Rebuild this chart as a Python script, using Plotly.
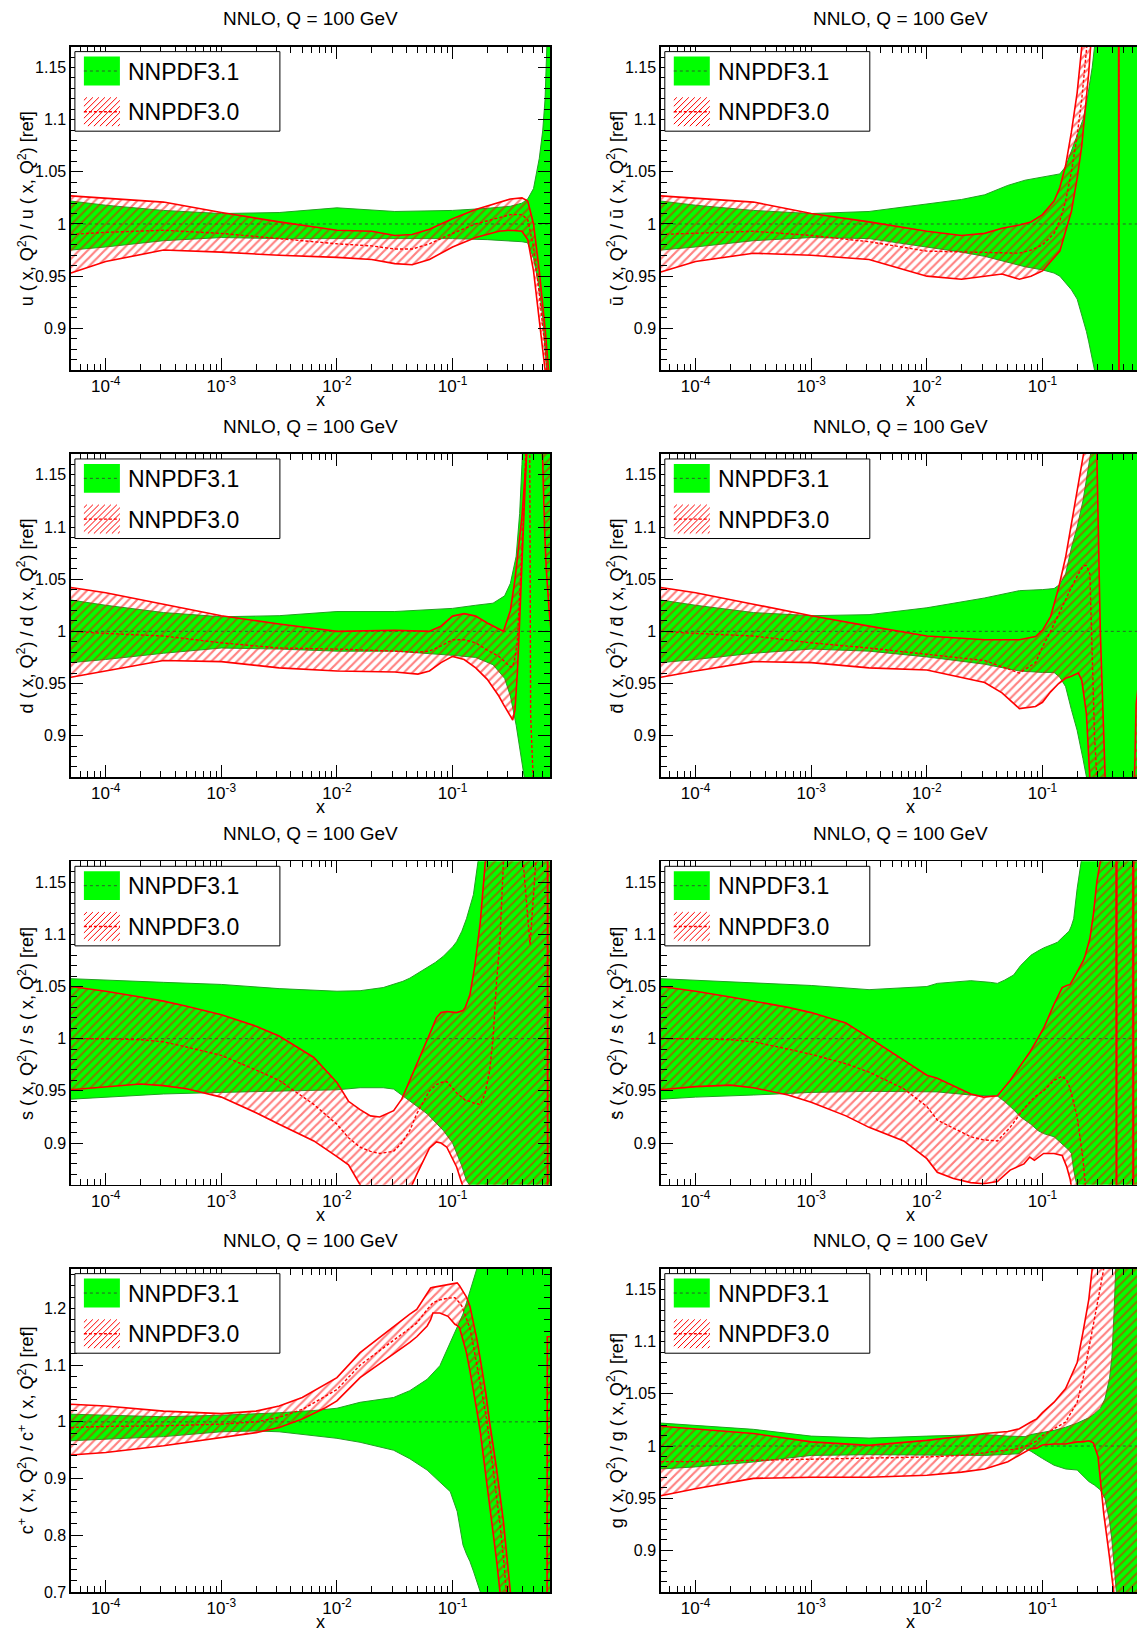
import math
import plotly.graph_objects as go

# ---------------- data (x given as log10(x); values are ratios to NNPDF3.1) ----------------
REF_LX = [-4.301, -0.1]
REF_Y = [1.0, 1.0]

# u
U_G_LX = [-4.301, -4.0, -3.5, -3.0, -2.5, -2.0, -1.5, -1.0, -0.7, -0.5, -0.4, -0.35, -0.3, -0.25, -0.22, -0.2, -0.185, -0.17, -0.14]
U_G_LO = [0.975, 0.978, 0.984, 0.987, 0.986, 0.986, 0.986, 0.986, 0.985, 0.984, 0.983, 0.982, 0.967, 0.939, 0.91, 0.88, 0.86, 0.80, 0.70]
U_G_HI = [1.022, 1.018, 1.013, 1.010, 1.011, 1.0155, 1.012, 1.013, 1.015, 1.017, 1.020, 1.024, 1.034, 1.063, 1.09, 1.12, 1.17, 1.25, 1.35]
U_R_LX = [-4.301, -4.0, -3.5, -3.0, -2.5, -2.0, -1.7, -1.5, -1.35, -1.2, -1.0, -0.8, -0.6, -0.5, -0.4, -0.35, -0.3, -0.25, -0.2, -0.17, -0.14]
U_R_HI = [1.027, 1.0245, 1.021, 1.011, 1.002, 0.994, 0.993, 0.989, 0.990, 0.995, 1.005, 1.014, 1.021, 1.024, 1.025, 1.022, 1.0, 0.955, 0.90, 0.86, 0.82]
U_R_LO = [0.953, 0.964, 0.975, 0.973, 0.970, 0.968, 0.966, 0.962, 0.961, 0.966, 0.978, 0.987, 0.993, 0.994, 0.993, 0.985, 0.955, 0.91, 0.86, 0.82, 0.78]
U_R_MID = [0.990, 0.992, 0.994, 0.991, 0.986, 0.981, 0.979, 0.976, 0.976, 0.981, 0.991, 1.000, 1.006, 1.009, 1.009, 1.004, 0.978, 0.933, 0.88, 0.84, 0.80]

# ubar
UB_G_LX = [-4.301, -4.0, -3.5, -3.0, -2.5, -2.0, -1.7, -1.5, -1.3, -1.15, -1.0, -0.9, -0.85, -0.8, -0.75, -0.7, -0.65, -0.62, -0.6, -0.57, -0.55, -0.5, -0.1]
UB_G_LO = [0.975, 0.978, 0.984, 0.987, 0.986, 0.978, 0.973, 0.969, 0.963, 0.959, 0.956, 0.953, 0.950, 0.944, 0.937, 0.928, 0.910, 0.897, 0.887, 0.872, 0.86, 0.80, 0.5]
UB_G_HI = [1.022, 1.018, 1.013, 1.010, 1.012, 1.019, 1.0235, 1.028, 1.037, 1.042, 1.045, 1.047, 1.048, 1.055, 1.07, 1.085, 1.10, 1.115, 1.13, 1.15, 1.17, 1.25, 1.5]
UB_R_LX = [-4.301, -4.0, -3.5, -3.0, -2.5, -2.0, -1.7, -1.5, -1.35, -1.2, -1.1, -1.0, -0.9, -0.85, -0.8, -0.75, -0.7, -0.66, -0.6, -0.58, -0.5, -0.342, -0.338, -0.1]
UB_R_HI = [1.027, 1.0245, 1.021, 1.010, 1.002, 0.993, 0.989, 0.991, 0.996, 0.999, 1.002, 1.009, 1.022, 1.035, 1.056, 1.088, 1.126, 1.17, 1.25, 1.3, 1.4, 1.5, 0.5, 0.4]
UB_R_LO = [0.954, 0.964, 0.972, 0.970, 0.966, 0.950, 0.947, 0.950, 0.952, 0.947, 0.950, 0.955, 0.967, 0.974, 0.993, 1.012, 1.044, 1.075, 1.145, 1.17, 1.3, 1.4, 0.4, 0.3]
UB_R_MID = [0.990, 0.991, 0.993, 0.989, 0.983, 0.974, 0.973, 0.973, 0.972, 0.972, 0.975, 0.980, 0.991, 1.003, 1.022, 1.05, 1.085, 1.12, 1.19, 1.23, 1.35, 1.45, 0.45, 0.35]

# d
D_G_LX = [-4.301, -4.0, -3.5, -3.0, -2.5, -2.0, -1.5, -1.2, -1.0, -0.8, -0.65, -0.55, -0.5, -0.45, -0.42, -0.4, -0.38, -0.35, -0.1]
D_G_HI = [1.030, 1.025, 1.018, 1.014, 1.015, 1.019, 1.019, 1.021, 1.022, 1.025, 1.027, 1.034, 1.046, 1.072, 1.113, 1.16, 1.2, 1.3, 1.5]
D_G_LO = [0.970, 0.973, 0.979, 0.984, 0.983, 0.981, 0.981, 0.979, 0.977, 0.975, 0.968, 0.955, 0.938, 0.910, 0.89, 0.875, 0.86, 0.8, 0.5]
D_R_LX = [-4.301, -4.0, -3.5, -3.0, -2.5, -2.0, -1.5, -1.3, -1.2, -1.1, -1.0, -0.9, -0.8, -0.7, -0.6, -0.56, -0.5, -0.48, -0.46, -0.44, -0.42, -0.4, -0.38, -0.36, -0.335, -0.325, -0.3, -0.23, -0.205, -0.19, -0.165, -0.14]
D_R_HI = [1.042, 1.037, 1.026, 1.015, 1.007, 1.0, 1.001, 1.0, 1.0, 1.005, 1.0146, 1.017, 1.0146, 1.008, 1.002, 1.0, 1.02, 1.034, 1.05, 1.07, 1.088, 1.11, 1.14, 1.17, 1.3, 1.3, 1.3, 1.3, 1.3, 1.3, 1.3, 1.3]
D_R_LO = [0.956, 0.962, 0.972, 0.971, 0.965, 0.962, 0.961, 0.959, 0.962, 0.970, 0.976, 0.973, 0.965, 0.954, 0.938, 0.93, 0.918, 0.915, 0.925, 0.96, 1.01, 1.07, 1.12, 1.17, 1.24, 1.245, 1.25, 1.2, 1.1, 1.06, 1.02, 0.99]
D_R_MID = [1.0, 0.998, 0.9955, 0.989, 0.984, 0.983, 0.981, 0.980, 0.981, 0.986, 0.992, 0.992, 0.989, 0.982, 0.976, 0.972, 0.966, 0.966, 0.975, 0.99, 1.03, 1.08, 1.13, 1.2, 1.25, 0.92, 0.85, 0.8, 0.8, 0.8, 0.8, 0.8]

# dbar
DB_G_LX = [-4.301, -4.0, -3.5, -3.0, -2.5, -2.0, -1.5, -1.2, -1.0, -0.9, -0.85, -0.8, -0.75, -0.7, -0.65, -0.62, -0.6, -0.58, -0.55, -0.1]
DB_G_HI = [1.030, 1.025, 1.018, 1.015, 1.016, 1.0226, 1.032, 1.039, 1.040, 1.041, 1.045, 1.055, 1.08, 1.10, 1.125, 1.145, 1.16, 1.175, 1.2, 1.5]
DB_G_LO = [0.970, 0.973, 0.979, 0.983, 0.981, 0.9755, 0.9685, 0.962, 0.9606, 0.9606, 0.956, 0.947, 0.925, 0.905, 0.878, 0.86, 0.85, 0.84, 0.82, 0.5]
DB_R_LX = [-4.301, -4.0, -3.5, -3.0, -2.5, -2.0, -1.5, -1.35, -1.2, -1.06, -1.0, -0.93, -0.86, -0.8, -0.75, -0.69, -0.66, -0.645, -0.62, -0.59, -0.55, -0.53, -0.5, -0.47, -0.44, -0.3, -0.22, -0.2, -0.19, -0.17]
DB_R_HI = [1.042, 1.037, 1.026, 1.015, 1.005, 0.9955, 0.992, 0.992, 0.992, 0.995, 1.001, 1.014, 1.042, 1.071, 1.103, 1.138, 1.16, 1.17, 1.22, 1.25, 1.2, 1.17, 1.0, 0.86, 0.8, 0.7, 0.8, 0.88, 0.93, 0.95]
DB_R_LO = [0.956, 0.962, 0.971, 0.970, 0.965, 0.963, 0.951, 0.941, 0.926, 0.928, 0.932, 0.942, 0.950, 0.955, 0.957, 0.960, 0.953, 0.940, 0.921, 0.858, 0.8, 0.78, 0.76, 0.75, 0.7, 0.65, 0.6, 0.6, 0.6, 0.6]
DB_R_MID = [1.0, 0.998, 0.9955, 0.989, 0.984, 0.978, 0.972, 0.966, 0.96, 0.97, 0.985, 1.0, 1.017, 1.03, 1.042, 1.055, 1.06, 1.063, 1.063, 1.055, 0.90, 0.85, 0.8, 0.78, 0.75, 0.7, 0.7, 0.7, 0.7, 0.7]

# s
S_G_LX = [-4.301, -4.0, -3.5, -3.0, -2.5, -2.0, -1.8, -1.6, -1.51, -1.43, -1.37, -1.3, -1.22, -1.15, -1.08, -1.0, -0.965, -0.92, -0.88, -0.82, -0.78, -0.7, -0.1]
S_G_HI = [1.0575, 1.056, 1.054, 1.052, 1.048, 1.0455, 1.046, 1.049, 1.052, 1.055, 1.058, 1.063, 1.068, 1.073, 1.079, 1.088, 1.093, 1.103, 1.115, 1.138, 1.17, 1.25, 1.5]
S_G_LO = [0.942, 0.944, 0.947, 0.9485, 0.9495, 0.951, 0.953, 0.953, 0.9517, 0.945, 0.940, 0.934, 0.928, 0.92, 0.912, 0.90, 0.89, 0.878, 0.864, 0.855, 0.84, 0.8, 0.5]
S_R_LX = [-4.301, -4.0, -3.7, -3.5, -3.3, -3.0, -2.7, -2.5, -2.2, -2.0, -1.9, -1.8, -1.71, -1.63, -1.51, -1.44, -1.37, -1.31, -1.25, -1.2, -1.14, -1.1, -1.05, -0.965, -0.91, -0.89, -0.85, -0.81, -0.76, -0.72, -0.68, -0.65, -0.62, -0.59, -0.56, -0.45, -0.39, -0.33, -0.28, -0.25, -0.18, -0.178, -0.176, -0.14]
S_R_HI = [1.050, 1.0455, 1.04, 1.036, 1.031, 1.023, 1.012, 1.0025, 0.982, 0.958, 0.94, 0.932, 0.926, 0.925, 0.931, 0.942, 0.96, 0.975, 0.99, 1.004, 1.02, 1.025, 1.026, 1.025, 1.027, 1.03, 1.042, 1.068, 1.112, 1.17, 1.25, 1.3, 1.3, 1.3, 1.3, 1.3, 1.3, 1.3, 1.3, 1.3, 1.3, 0.4, 1.3, 1.3]
S_R_LO = [0.951, 0.954, 0.9565, 0.955, 0.952, 0.944, 0.929, 0.918, 0.902, 0.887, 0.879, 0.86, 0.845, 0.835, 0.83, 0.84, 0.855, 0.87, 0.883, 0.895, 0.901, 0.9, 0.896, 0.877, 0.858, 0.85, 0.83, 0.8, 0.75, 0.7, 0.65, 0.6, 0.55, 0.5, 0.5, 0.5, 0.5, 0.5, 0.5, 0.5, 0.5, 0.4, 0.5, 0.5]
S_R_MID = [1.0, 1.0, 0.999, 0.997, 0.992, 0.984, 0.970, 0.960, 0.937, 0.918, 0.905, 0.896, 0.892, 0.89, 0.892, 0.9, 0.912, 0.928, 0.94, 0.95, 0.956, 0.958, 0.959, 0.948, 0.943, 0.941, 0.94, 0.938, 0.937, 0.947, 0.969, 1.0, 1.054, 1.095, 1.17, 1.25, 1.17, 1.09, 1.17, 1.3, 1.3, 1.3, 1.3, 1.3]

# sbar
SB_G_LX = [-4.301, -4.0, -3.5, -3.0, -2.5, -2.0, -1.91, -1.62, -1.45, -1.39, -1.33, -1.25, -1.19, -1.1, -1.04, -0.99, -0.9, -0.87, -0.8, -0.77, -0.75, -0.73, -0.70, -0.665, -0.6, -0.1]
SB_G_HI = [1.0575, 1.056, 1.054, 1.051, 1.047, 1.050, 1.053, 1.0556, 1.054, 1.053, 1.056, 1.061, 1.07, 1.080, 1.084, 1.087, 1.091, 1.0925, 1.1, 1.103, 1.108, 1.115, 1.144, 1.17, 1.25, 1.5]
SB_G_LO = [0.942, 0.944, 0.946, 0.9485, 0.9495, 0.9495, 0.949, 0.946, 0.945, 0.945, 0.94, 0.932, 0.925, 0.918, 0.912, 0.909, 0.906, 0.903, 0.896, 0.893, 0.89, 0.874, 0.858, 0.84, 0.8, 0.5]
SB_R_LX = [-4.301, -4.0, -3.7, -3.5, -3.2, -3.0, -2.7, -2.5, -2.2, -2.0, -1.91, -1.77, -1.62, -1.51, -1.39, -1.28, -1.16, -1.11, -1.07, -0.99, -0.9, -0.83, -0.79, -0.76, -0.75, -0.7, -0.65, -0.63, -0.59, -0.56, -0.53, -0.5, -0.4, -0.364, -0.36, -0.356, -0.219, -0.215, -0.211, -0.14]
SB_R_HI = [1.050, 1.0455, 1.04, 1.036, 1.03, 1.025, 1.015, 1.001, 0.979, 0.965, 0.962, 0.955, 0.947, 0.944, 0.9453, 0.96, 0.979, 0.987, 0.9946, 1.01, 1.033, 1.049, 1.051, 1.052, 1.054, 1.0645, 1.074, 1.08, 1.096, 1.119, 1.15, 1.17, 1.3, 1.3, 0.4, 1.3, 1.3, 0.4, 1.3, 1.3]
SB_R_LO = [0.951, 0.954, 0.9555, 0.953, 0.946, 0.939, 0.926, 0.915, 0.902, 0.885, 0.872, 0.866, 0.862, 0.861, 0.863, 0.874, 0.880, 0.8865, 0.8834, 0.89, 0.89, 0.888, 0.877, 0.865, 0.858, 0.8, 0.75, 0.7, 0.6, 0.5, 0.5, 0.5, 0.5, 0.5, 0.4, 0.5, 0.5, 0.4, 0.5, 0.5]
SB_R_MID = [1.0, 1.0, 0.999, 0.997, 0.99, 0.985, 0.976, 0.968, 0.952, 0.935, 0.922, 0.914, 0.906, 0.903, 0.902, 0.915, 0.933, 0.939, 0.944, 0.95, 0.96, 0.964, 0.96, 0.952, 0.947, 0.925, 0.885, 0.858, 0.8, 0.75, 0.7, 0.7, 0.7, 0.7, 0.7, 0.7, 0.7, 0.7, 0.7, 0.7]

# c+
CP_G_LX = [-4.301, -4.0, -3.5, -3.0, -2.7, -2.5, -2.2, -2.0, -1.8, -1.51, -1.37, -1.22, -1.11, -1.02, -0.96, -0.94, -0.91, -0.88, -0.85, -0.82, -0.79, -0.76, -0.7, -0.1]
CP_G_HI = [1.0135, 1.0117, 1.009, 1.0117, 1.014, 1.016, 1.02, 1.024, 1.0345, 1.043, 1.055, 1.075, 1.099, 1.14, 1.165, 1.175, 1.19, 1.21, 1.23, 1.25, 1.27, 1.29, 1.35, 1.6]
CP_G_LO = [0.9667, 0.9696, 0.974, 0.9825, 0.984, 0.9825, 0.975, 0.971, 0.964, 0.95, 0.935, 0.915, 0.894, 0.877, 0.842, 0.82, 0.783, 0.767, 0.754, 0.737, 0.719, 0.70, 0.65, 0.4]
CP_R_LX = [-4.301, -4.0, -3.5, -3.0, -2.7, -2.5, -2.3, -2.1, -2.0, -1.8, -1.51, -1.37, -1.31, -1.22, -1.19, -1.17, -1.11, -1.04, -0.98, -0.96, -0.94, -0.92, -0.88, -0.85, -0.82, -0.79, -0.76, -0.73, -0.71, -0.68, -0.65, -0.62, -0.59, -0.56, -0.5, -0.3, -0.184, -0.181, -0.14]
CP_R_HI = [1.031, 1.028, 1.019, 1.0146, 1.019, 1.028, 1.043, 1.066, 1.078, 1.122, 1.169, 1.19, 1.198, 1.225, 1.236, 1.237, 1.239, 1.242, 1.244, 1.245, 1.24, 1.233, 1.22, 1.204, 1.177, 1.146, 1.11, 1.075, 1.047, 0.9994, 0.96, 0.918, 0.871, 0.824, 0.70, 0.5, 0.5, 1.15, 1.15]
CP_R_LO = [0.9415, 0.946, 0.958, 0.9725, 0.981, 0.990, 1.005, 1.025, 1.037, 1.078, 1.119, 1.14, 1.15, 1.169, 1.18, 1.192, 1.192, 1.186, 1.172, 1.17, 1.166, 1.15, 1.122, 1.09, 1.058, 1.02, 0.982, 0.935, 0.90, 0.86, 0.812, 0.757, 0.70, 0.65, 0.55, 0.45, 0.45, 0.45, 0.45]
CP_R_MID = [0.990, 0.992, 0.993, 0.996, 1.0, 1.008, 1.022, 1.045, 1.057, 1.10, 1.144, 1.165, 1.174, 1.198, 1.205, 1.21, 1.215, 1.218, 1.219, 1.215, 1.21, 1.204, 1.18, 1.165, 1.134, 1.1, 1.068, 1.0345, 1.01, 0.965, 0.918, 0.87, 0.82, 0.76, 0.62, 0.5, 0.5, 0.5, 0.5]

# g
GL_G_LX = [-4.301, -4.0, -3.5, -3.0, -2.5, -2.0, -1.5, -1.3, -1.2, -1.15, -1.1, -1.0, -0.9, -0.8, -0.7, -0.6, -0.55, -0.5, -0.46, -0.42, -0.4, -0.38, -0.36, -0.34, -0.1]
GL_G_HI = [1.022, 1.020, 1.016, 1.0095, 1.0076, 1.0095, 1.011, 1.0095, 1.0095, 1.009, 1.011, 1.013, 1.015, 1.018, 1.022, 1.027, 1.031, 1.036, 1.045, 1.065, 1.085, 1.13, 1.17, 1.25, 1.5]
GL_G_LO = [0.978, 0.980, 0.9847, 0.991, 0.9917, 0.991, 0.991, 0.992, 0.9927, 0.9975, 0.995, 0.988, 0.9816, 0.978, 0.977, 0.966, 0.9625, 0.958, 0.95, 0.928, 0.91, 0.886, 0.86, 0.82, 0.5]
GL_R_LX = [-4.301, -4.0, -3.5, -3.0, -2.5, -2.0, -1.7, -1.5, -1.3, -1.2, -1.1, -1.05, -1.0, -0.9, -0.8, -0.7, -0.65, -0.6, -0.57, -0.56, -0.52, -0.47, -0.42, -0.38, -0.34, -0.1]
GL_R_HI = [1.019, 1.0165, 1.012, 1.004, 1.0006, 1.0054, 1.0095, 1.012, 1.014, 1.0165, 1.023, 1.026, 1.032, 1.042, 1.055, 1.08, 1.109, 1.14, 1.17, 1.18, 1.25, 1.3, 1.35, 1.4, 1.45, 1.6]
GL_R_LO = [0.9523, 0.959, 0.969, 0.970, 0.970, 0.972, 0.975, 0.978, 0.985, 0.991, 0.9975, 0.998, 1.001, 1.002, 1.002, 1.004, 1.004, 1.005, 1.004, 1.003, 0.99, 0.935, 0.893, 0.86, 0.82, 0.5]
GL_R_MID = [0.985, 0.985, 0.9863, 0.9873, 0.988, 0.9895, 0.991, 0.9936, 0.996, 0.9975, 1.002, 1.005, 1.01, 1.0165, 1.023, 1.042, 1.064, 1.093, 1.11, 1.115, 1.14, 1.17, 1.2, 1.2, 1.2, 1.3]

Y_STD_VALS = [0.9, 0.95, 1.0, 1.05, 1.1, 1.15]
Y_STD_TEXT = ["0.9", "0.95", "1", "1.05", "1.1", "1.15"]
Y_CP_VALS = [0.7, 0.8, 0.9, 1.0, 1.1, 1.2]
Y_CP_TEXT = ["0.7", "0.8", "0.9", "1", "1.1", "1.2"]
X_TICK_VALS = [1e-4, 1e-3, 1e-2, 1e-1]
X_TICK_TEXT = ["10<sup>-4</sup>", "10<sup>-3</sup>", "10<sup>-2</sup>", "10<sup>-1</sup>"]

TITLE = "NNLO, Q = 100 GeV"
LEG_31 = "NNPDF3.1"
LEG_30 = "NNPDF3.0"

Q2 = "Q<sup>2</sup>"
PANELS = [
    dict(lab="u ( x, %s) / u ( x, %s) [ref]" % (Q2, Q2), g=(U_G_LX, U_G_LO, U_G_HI), r=(U_R_LX, U_R_LO, U_R_HI, U_R_MID), cp=False),
    dict(lab="\u016b ( x, %s) / \u016b ( x, %s) [ref]" % (Q2, Q2), g=(UB_G_LX, UB_G_LO, UB_G_HI), r=(UB_R_LX, UB_R_LO, UB_R_HI, UB_R_MID), cp=False),
    dict(lab="d ( x, %s) / d ( x, %s) [ref]" % (Q2, Q2), g=(D_G_LX, D_G_LO, D_G_HI), r=(D_R_LX, D_R_LO, D_R_HI, D_R_MID), cp=False),
    dict(lab="d\u0304 ( x, %s) / d\u0304 ( x, %s) [ref]" % (Q2, Q2), g=(DB_G_LX, DB_G_LO, DB_G_HI), r=(DB_R_LX, DB_R_LO, DB_R_HI, DB_R_MID), cp=False),
    dict(lab="s ( x, %s) / s ( x, %s) [ref]" % (Q2, Q2), g=(S_G_LX, S_G_LO, S_G_HI), r=(S_R_LX, S_R_LO, S_R_HI, S_R_MID), cp=False),
    dict(lab="s\u0304 ( x, %s) / s\u0304 ( x, %s) [ref]" % (Q2, Q2), g=(SB_G_LX, SB_G_LO, SB_G_HI), r=(SB_R_LX, SB_R_LO, SB_R_HI, SB_R_MID), cp=False),
    dict(lab="c<sup>+</sup> ( x, %s) / c<sup>+</sup> ( x, %s) [ref]" % (Q2, Q2), g=(CP_G_LX, CP_G_LO, CP_G_HI), r=(CP_R_LX, CP_R_LO, CP_R_HI, CP_R_MID), cp=True),
    dict(lab="g ( x, %s) / g ( x, %s) [ref]" % (Q2, Q2), g=(GL_G_LX, GL_G_LO, GL_G_HI), r=(GL_R_LX, GL_R_LO, GL_R_HI, GL_R_MID), cp=False),
]

# ---------------- geometry / style ----------------
W, H = 1137, 1634
FONT = "Liberation Sans, Arial, Helvetica, sans-serif"
GREEN = "#00ff00"
GREEN_EDGE = "#22a022"
GREEN_DASH = "#2c5f2c"
RED = "#ff0000"

COL_X0 = [70.9, 660.8]
ROW_Y0 = 46.9
ROW_STEP = 409.6
FRAME_W = 479.4
FRAME_H = 325.2
X_MIN_LOG = math.log10(5e-5)
X_MAX_LOG = math.log10(0.7)
PX_PER_DEC = FRAME_W / (X_MAX_LOG - X_MIN_LOG)


def P(x):
    return x / W


def Qy(y):
    return 1 - y / H


def hatch_shapes(x0, y0, x1, y1, step):
    out = []
    c = x0 + y0 + step * 0.5
    while c < x1 + y1:
        xa = max(x0, c - y1)
        xb = min(x1, c - y0)
        if xb > xa:
            out.append(dict(type="line", xref="paper", yref="paper",
                            x0=P(xa), y0=Qy(c - xa), x1=P(xb), y1=Qy(c - xb),
                            line=dict(color=RED, width=1)))
        c += step
    return out


fig = go.Figure()
shapes = []
annotations = []
layout_axes = {}

for i, p in enumerate(PANELS):
    r, c = divmod(i, 2)
    fx = COL_X0[c]
    fy = ROW_Y0 + r * ROW_STEP
    x1 = min(fx + FRAME_W, W)
    xmax_log = X_MIN_LOG + (x1 - fx) / PX_PER_DEC
    sfx = "" if i == 0 else str(i + 1)
    xa, ya = "x" + sfx, "y" + sfx

    g_lx, g_lo, g_hi = p["g"]
    r_lx, r_lo, r_hi, r_mid = p["r"]
    for arr, ref, nm in ((g_lo, g_lx, "g_lo"), (g_hi, g_lx, "g_hi"), (r_lo, r_lx, "r_lo"), (r_hi, r_lx, "r_hi"), (r_mid, r_lx, "r_mid")):
        if len(arr) != len(ref):
            raise ValueError("panel %d %s length %d vs %d" % (i, nm, len(arr), len(ref)))
    gx = [10 ** v for v in g_lx]
    rx = [10 ** v for v in r_lx]

    common = dict(xaxis=xa, yaxis=ya, hoverinfo="skip", showlegend=False, mode="lines")
    fig.add_trace(go.Scatter(x=gx, y=g_lo, line=dict(color=GREEN_EDGE, width=1), **common))
    fig.add_trace(go.Scatter(x=gx, y=g_hi, line=dict(color=GREEN_EDGE, width=1),
                             fill="tonexty", fillcolor=GREEN, **common))
    fig.add_trace(go.Scatter(x=[10 ** v for v in REF_LX], y=REF_Y,
                             line=dict(color=GREEN_DASH, width=1, dash="3px,3px"), **common))
    fig.add_trace(go.Scatter(x=rx, y=r_lo, line=dict(color=RED, width=1.6), **common))
    fig.add_trace(go.Scatter(x=rx, y=r_hi, line=dict(color=RED, width=1.6),
                             fill="tonexty", fillcolor="rgba(0,0,0,0)",
                             fillpattern=dict(shape="/", fgcolor=RED, bgcolor="rgba(0,0,0,0)",
                                              size=6, solidity=0.36, fillmode="overlay"),
                             **common))
    fig.add_trace(go.Scatter(x=rx, y=r_mid, line=dict(color=RED, width=1.4, dash="3px,2px"), **common))

    if p["cp"]:
        yr, yv, yt, ymin = [0.7, 1.27], Y_CP_VALS, Y_CP_TEXT, 0.02
    else:
        yr, yv, yt, ymin = [0.86, 1.17], Y_STD_VALS, Y_STD_TEXT, 0.01

    layout_axes["xaxis" + sfx] = dict(
        domain=[P(fx), P(x1)], anchor=ya, type="log", range=[X_MIN_LOG, xmax_log],
        showline=True, linecolor="black", linewidth=1.5, mirror="ticks",
        ticks="inside", ticklen=12, tickwidth=1, tickcolor="black",
        tickmode="array", tickvals=X_TICK_VALS, ticktext=X_TICK_TEXT,
        tickfont=dict(family=FONT, size=17, color="black"),
        minor=dict(ticks="inside", ticklen=6, tickwidth=1, tickcolor="black", dtick="D1", showgrid=False),
        showgrid=False, zeroline=False, fixedrange=True,
    )
    layout_axes["yaxis" + sfx] = dict(
        domain=[Qy(fy + FRAME_H), Qy(fy)], anchor=xa, range=yr,
        showline=True, linecolor="black", linewidth=1.5, mirror=("ticks" if c == 0 else False),
        ticks="inside", ticklen=12, tickwidth=1, tickcolor="black",
        tickmode="array", tickvals=yv, ticktext=yt,
        tickfont=dict(family=FONT, size=16, color="black"),
        minor=dict(ticks="inside", ticklen=6, tickwidth=1, tickcolor="black", dtick=ymin, tick0=0, showgrid=False),
        showgrid=False, zeroline=False, fixedrange=True,
    )

    # panel title
    cx = fx + FRAME_W / 2
    annotations.append(dict(text=TITLE, xref="paper", yref="paper", x=P(cx), y=Qy(fy - 28),
                            xanchor="center", yanchor="middle", showarrow=False,
                            font=dict(family=FONT, size=19, color="black")))
    # y title
    annotations.append(dict(text=p["lab"], xref="paper", yref="paper", x=P(fx - 45), y=Qy(fy + FRAME_H / 2),
                            xanchor="center", yanchor="middle", textangle=-90, showarrow=False,
                            font=dict(family=FONT, size=18, color="black")))
    # x title
    annotations.append(dict(text="x", xref="paper", yref="paper", x=P(fx + 250), y=Qy(fy + FRAME_H + 30),
                            xanchor="center", yanchor="middle", showarrow=False,
                            font=dict(family=FONT, size=18, color="black")))

    # legend box
    shapes.append(dict(type="rect", xref="paper", yref="paper", x0=P(fx + 4), y0=Qy(fy + 85),
                       x1=P(fx + 209), y1=Qy(fy + 5), fillcolor="white",
                       line=dict(color="black", width=1), layer="above"))
    shapes.append(dict(type="rect", xref="paper", yref="paper", x0=P(fx + 13), y0=Qy(fy + 39),
                       x1=P(fx + 49), y1=Qy(fy + 10), fillcolor=GREEN, line=dict(width=0), layer="above"))
    shapes.append(dict(type="line", xref="paper", yref="paper", x0=P(fx + 13), y0=Qy(fy + 24.5),
                       x1=P(fx + 49), y1=Qy(fy + 24.5), line=dict(color=GREEN_DASH, width=1, dash="3px,3px")))
    shapes.extend(hatch_shapes(fx + 13, fy + 51, fx + 49, fy + 80, 6))
    shapes.append(dict(type="line", xref="paper", yref="paper", x0=P(fx + 13), y0=Qy(fy + 65.5),
                       x1=P(fx + 49), y1=Qy(fy + 65.5), line=dict(color=RED, width=1.4, dash="3px,2px")))
    annotations.append(dict(text=LEG_31, xref="paper", yref="paper", x=P(fx + 55), y=Qy(fy + 25),
                            xanchor="left", yanchor="middle", showarrow=False,
                            font=dict(family=FONT, size=23, color="black")))
    annotations.append(dict(text=LEG_30, xref="paper", yref="paper", x=P(fx + 55), y=Qy(fy + 66),
                            xanchor="left", yanchor="middle", showarrow=False,
                            font=dict(family=FONT, size=23, color="black")))

fig.update_layout(
    width=W, height=H,
    margin=dict(l=0, r=0, t=0, b=0),
    paper_bgcolor="white", plot_bgcolor="white",
    showlegend=False,
    font=dict(family=FONT, color="black"),
    shapes=shapes, annotations=annotations,
    **layout_axes,
)

fig.write_html("out.html",
               config={"displayModeBar": False, "staticPlot": True},
               post_script="document.body.style.margin='0px';document.body.style.overflow='hidden';")
